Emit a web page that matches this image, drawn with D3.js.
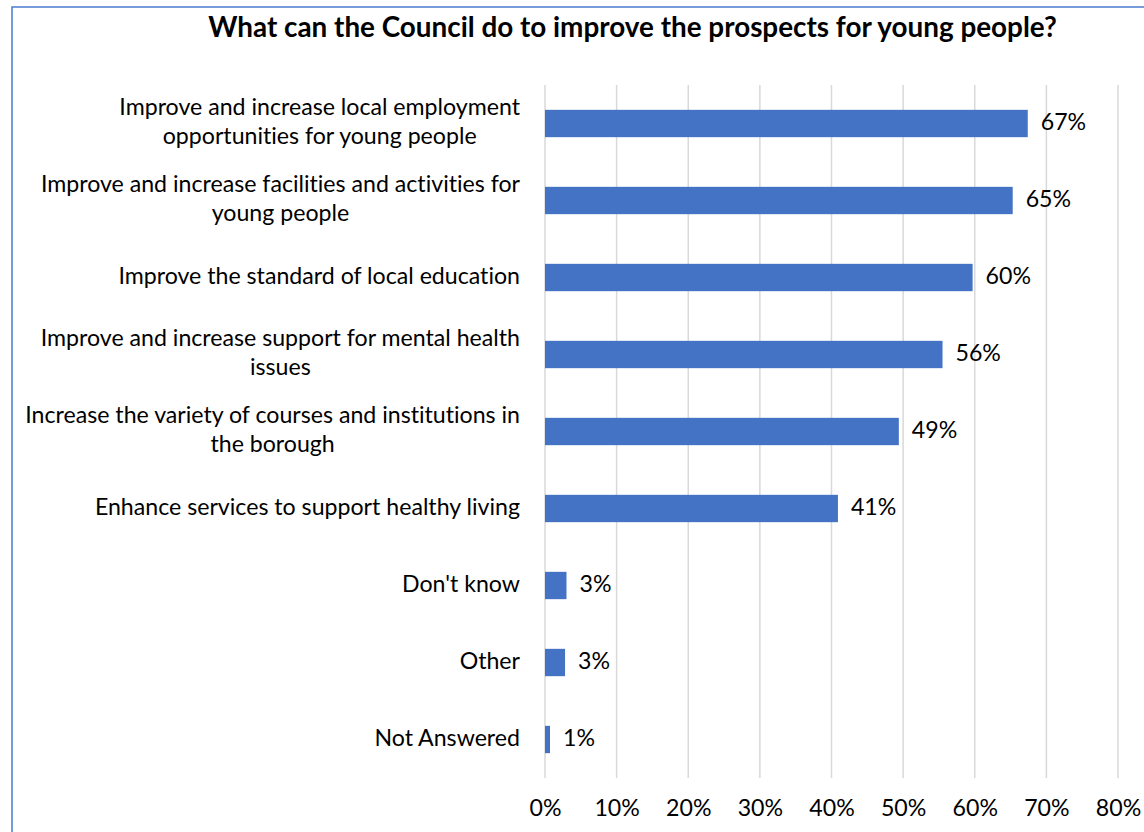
<!DOCTYPE html>
<html>
<head>
<meta charset="utf-8">
<script src="https://cdn.jsdelivr.net/npm/d3@7"></script>
<style>
  html, body { margin: 0; padding: 0; background: #fff; }
  svg { display: block; font-family: Lato, "Open Sans", sans-serif; font-variant-ligatures: none; }
</style>
</head>
<body>
<svg id="chart" width="1144" height="832"></svg>
<script>
const title = "What can the Council do to improve the prospects for young people?";
const categories = [
  "Improve and increase local employment\nopportunities for young people",
  "Improve and increase facilities and activities for\nyoung people",
  "Improve the standard of local education",
  "Improve and increase support for mental health\nissues",
  "Increase the variety of courses and institutions in\nthe borough",
  "Enhance services to support healthy living",
  "Don't know",
  "Other",
  "Not Answered"
];
const values = [0.674, 0.653, 0.597, 0.555, 0.494, 0.409, 0.030, 0.028, 0.007];
const valueLabels = ["67%", "65%", "60%", "56%", "49%", "41%", "3%", "3%", "1%"];
const tickValues = [0, 0.1, 0.2, 0.3, 0.4, 0.5, 0.6, 0.7, 0.8];

const svg = d3.select("#chart");
const plot = { left: 545, right: 1118, top: 85, bottom: 778 };

// chart border
svg.append("rect")
  .attr("x", 12).attr("y", 7)
  .attr("width", 1200).attr("height", 900)
  .attr("fill", "none")
  .attr("stroke", "#5584d2")
  .attr("stroke-width", 1.6);

const x = d3.scaleLinear().domain([0, 0.8]).range([plot.left, plot.right]);
const y = d3.scaleBand().domain(d3.range(categories.length))
  .range([plot.top, plot.bottom])
  .paddingInner(0.645).paddingOuter(0.3225);

// helper: fit font size to a target width
function fitSize(text, weight, base, target) {
  const t = svg.append("text").attr("font-size", base).attr("font-weight", weight).text(text);
  const w = t.node().getComputedTextLength();
  t.remove();
  return base * target / w;
}
const labelSize = fitSize("Increase the variety of courses and institutions in", 400, 20, 495);
const titleSize = fitSize(title, 700, 22, 849);

// title
svg.append("text")
  .attr("x", 632.5).attr("y", 37)
  .attr("text-anchor", "middle")
  .attr("font-size", titleSize)
  .attr("font-weight", 700)
  .attr("fill", "#000")
  .text(title);

// gridlines
svg.append("g").selectAll("line").data(tickValues).join("line")
  .attr("x1", d => x(d)).attr("x2", d => x(d))
  .attr("y1", plot.top).attr("y2", plot.bottom)
  .attr("stroke", "#d9d9d9").attr("stroke-width", 1.5);

// x axis labels
const xAxis = d3.axisBottom(x).tickValues(tickValues).tickFormat(d3.format(".0%")).tickSize(0).tickPadding(0);
const gx = svg.append("g").attr("transform", `translate(0,${plot.bottom})`).call(xAxis);
gx.select(".domain").remove();
gx.selectAll("text")
  .attr("font-family", "Lato, 'Open Sans', sans-serif")
  .attr("font-size", labelSize)
  .attr("fill", "#000")
  .attr("dy", null)
  .attr("y", 38);

// bars
svg.append("g").selectAll("rect").data(values).join("rect")
  .attr("x", x(0))
  .attr("y", (d, i) => y(i))
  .attr("width", d => x(d) - x(0))
  .attr("height", y.bandwidth())
  .attr("fill", "#4472c4");

// value labels
svg.append("g").selectAll("text").data(values).join("text")
  .attr("x", d => x(d) + 13)
  .attr("y", (d, i) => y(i) + y.bandwidth() / 2)
  .attr("dy", "0.3em")
  .attr("font-size", labelSize)
  .attr("fill", "#000")
  .text((d, i) => valueLabels[i]);

// category labels (multi-line, lines centered, block right-aligned)
const lineH = 29;
categories.forEach((c, i) => {
  const lines = c.split("\n");
  const g = svg.append("text")
    .attr("font-size", labelSize)
    .attr("fill", "#000")
    .attr("text-anchor", "middle");
  const cy = y(i) + y.bandwidth() / 2;
  const y0 = cy - (lines.length - 1) * lineH / 2;
  lines.forEach((l, j) => {
    g.append("tspan").attr("x", 0).attr("y", y0 + j * lineH).attr("dy", "0.28em").text(l);
  });
  const w = d3.max(g.selectAll("tspan").nodes(), n => n.getComputedTextLength());
  g.selectAll("tspan").attr("x", 520 - w / 2);
});
</script>
</body>
</html>
